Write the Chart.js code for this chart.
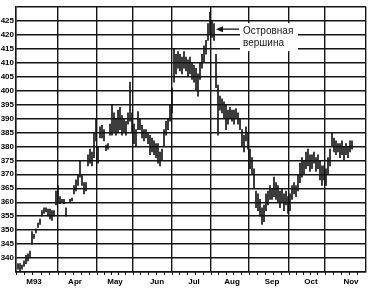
<!DOCTYPE html>
<html>
<head>
<meta charset="utf-8">
<script src="https://cdn.jsdelivr.net/npm/chart.js@4"></script>
<style>
  html, body { margin: 0; padding: 0; background: #fff; }
  #wrap { width: 372px; height: 290px; }
</style>
</head>
<body>
<div id="wrap"><canvas id="myChart"></canvas></div>
<script>
// daily bars, day 1 = start of March 1993
const lows = [
  336, 335.5, 336, 337, 338, 339, 340, 345, 347, 349,
  351, 352, 355, 356, 356.5, 355, 354, 353.5, 355, 359,
  360, 359.5, 360, 359.5, 355, null, 360, 360.5, 363, 364,
  366, 369, 366, 363, 364, 373, 374, 373, 376, 382,
  374, 383, 383, 382, 378.5, 379, 384, 384, 385, 384,
  385, 386, 384, 385, 384, 388, 389, 385, 381, 380,
  386, 386, 383, 382, 383, 381, 377, 378, 377, 376,
  374, 373, 375, 380, 384, 386, 389, 392, 403, 406,
  408, 407, 406, 408, 407, 405, 406, 404, 403, 400,
  398, 404, 408, 410, 413, 418, 420, 419, 418, 401,
  384, 393, 392, 390, 386, 388, 390, 389, 388, 390,
  388, 386, 380, 378, 382, 379, 372, 370, 365, 358,
  357, 355, 352, 353, 357, 359, 361, 361, 362, 361,
  360, 358, 360, 357, 359, 356, 357, 361, 363, 362,
  364, 367, 369, 370, 372, 373, 371, 372, 374, 371,
  372, 368, 366, 368, 366, 370, 373, 380, 378, 377,
  378, 376, 377, 375, 377, 376, 378, 379
];
const highs = [
  338, 338, 337.5, 339, 341, 341.5, 342.5, 349.5, 348.5, 350.5,
  352.5, 354, 357, 358, 358, 357.5, 357.5, 357, 357, 364,
  366, 362, 361, 361, 358, null, 361, 361.5, 366, 368,
  370, 375, 369.5, 367, 367, 377, 379, 378, 385, 390,
  380, 387, 387.5, 386, 380.5, 381, 388, 395, 392, 390,
  393, 394, 391, 390, 389, 392, 403, 392, 388, 386,
  392.5, 390, 387.5, 386, 386, 385, 384, 383, 382, 381,
  381, 378, 379, 386, 389, 390, 395, 401, 415, 413,
  414, 413, 412, 414, 412, 411, 412, 410, 409, 408,
  406, 410, 413, 416, 418, 424, 428, 425, 424, 413,
  402, 398, 397, 396, 395, 393, 394, 393, 393, 393.5,
  392, 390, 386, 384, 387, 385, 379, 376, 372, 364,
  363, 361, 358, 359, 363, 364, 366, 365, 369, 367,
  366, 364, 365, 363, 364, 362, 363, 366, 367, 366,
  370, 374, 376, 375, 378, 379, 377, 377, 378, 376,
  377, 375, 373, 373, 372, 376, 379, 385, 383, 382,
  381, 381, 382, 380, 381, 380, 382, 382
];

const months = ["M93", "Apr", "May", "Jun", "Jul", "Aug", "Sep", "Oct", "Nov"];
const monthStarts = [0, 21, 40.5, 58.5, 78, 97.5, 116.5, 136.5, 154.5, 175];
const labelDays = [9, 29.5, 49.5, 70.5, 89, 108, 128, 147.5, 167.5];
const yTicks = [340, 345, 350, 355, 360, 365, 370, 375, 380, 385, 390, 395, 400, 405, 410, 415, 420, 425];

const noteLines = ["Островная", "вершина"];
const noteDay = 100;
const noteValue = 422;

const ink = "#151515";
const font = { family: "'Liberation Sans', Arial, sans-serif", size: 8, weight: "bold" };

const bars = lows.map((lo, i) => ({ x: i + 1, y: lo === null ? null : [lo, highs[i]] }));

// weekly tick marks: five per month
const weekTicks = [];
for (let m = 0; m < monthStarts.length - 1; m++) {
  const a = monthStarts[m], b = monthStarts[m + 1];
  for (let k = 0; k < 5; k++) weekTicks.push(a + (b - a) * k / 5);
}

const notePlugin = {
  id: "note",
  beforeDatasetsDraw(chart) {
    const ctx = chart.ctx;
    const x = chart.scales.x.getPixelForValue(noteDay);
    const y = chart.scales.y.getPixelForValue(noteValue);
    ctx.save();
    ctx.fillStyle = "#fff";
    ctx.fillRect(x + 24, y - 6, 58, 28);
    ctx.strokeStyle = ink;
    ctx.fillStyle = ink;
    ctx.lineWidth = 1.3;
    ctx.beginPath();
    ctx.moveTo(x + 2, y);
    ctx.lineTo(x + 23, y);
    ctx.stroke();
    ctx.beginPath();
    ctx.moveTo(x, y);
    ctx.lineTo(x + 7, y - 3);
    ctx.lineTo(x + 7, y + 3);
    ctx.closePath();
    ctx.fill();
    ctx.font = "10px 'Liberation Sans', Arial, sans-serif";
    ctx.textBaseline = "middle";
    ctx.fillText(noteLines[0], x + 27, y + 2);
    ctx.fillText(noteLines[1], x + 27, y + 14);
    ctx.restore();
  }
};

const ctx = document.getElementById("myChart").getContext("2d");
new Chart(ctx, {
  type: "bar",
  data: {
    datasets: [{
      data: bars,
      backgroundColor: ink,
      borderWidth: 0,
      barThickness: 1,
      xAxisID: "x",
      yAxisID: "y"
    }]
  },
  options: {
    responsive: true,
    maintainAspectRatio: false,
    animation: false,
    layout: { padding: { top: 1, right: 6, left: 0, bottom: 0 } },
    plugins: {
      legend: { display: false },
      tooltip: { enabled: false }
    },
    scales: {
      x: {
        type: "linear",
        position: "bottom",
        offset: false,
        min: 0,
        max: 175,
        afterBuildTicks: s => { s.ticks = monthStarts.map(v => ({ value: v })); },
        afterFit: s => { s.height = 0; },
        ticks: { display: false },
        grid: { offset: false, color: ink, lineWidth: 1.4, drawTicks: false },
        border: { color: ink, width: 1.4 }
      },
      xw: {
        type: "linear",
        position: "bottom",
        offset: false,
        min: 0,
        max: 175,
        afterBuildTicks: s => { s.ticks = weekTicks.map(v => ({ value: v })); },
        afterFit: s => { s.height = 0; },
        ticks: { display: false },
        grid: { offset: false, drawOnChartArea: false, color: ink, lineWidth: 1, tickLength: 3 },
        border: { display: false }
      },
      xl: {
        type: "linear",
        position: "bottom",
        offset: false,
        min: 0,
        max: 175,
        afterBuildTicks: s => { s.ticks = labelDays.map(v => ({ value: v })); },
        afterFit: s => { s.height = 18; },
        ticks: {
          color: "#000",
          font: font,
          padding: 5,
          maxRotation: 0,
          autoSkip: false,
          callback: (v, i) => months[i]
        },
        grid: { offset: false, display: false, drawTicks: false },
        border: { display: false }
      },
      y: {
        position: "left",
        min: 335,
        max: 430,
        afterBuildTicks: s => {
          s.ticks = [335].concat(yTicks, [430]).map(v => ({ value: v }));
        },
        afterFit: s => { s.width = 16; },
        ticks: {
          color: "#000",
          font: font,
          padding: 2,
          autoSkip: false,
          callback: v => (yTicks.includes(v) ? v : "")
        },
        grid: { color: ink, lineWidth: 1.4, drawTicks: false },
        border: { color: ink, width: 1.4 }
      }
    }
  },
  plugins: [notePlugin]
});
</script>
</body>
</html>
